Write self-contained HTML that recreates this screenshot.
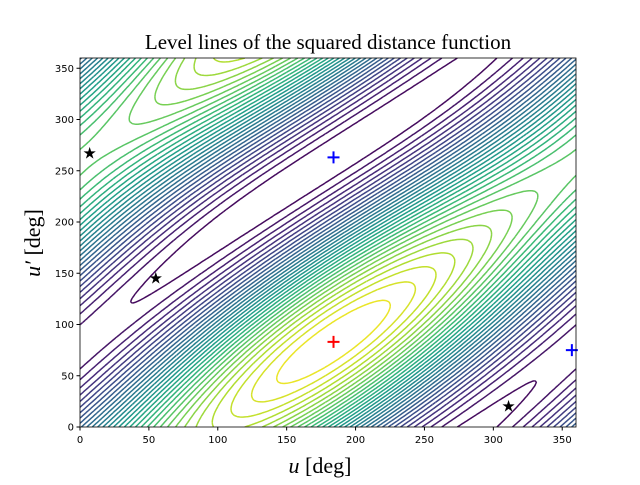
<!DOCTYPE html>
<html><head><meta charset="utf-8"><style>
body{margin:0;background:#fff;width:640px;height:480px;overflow:hidden}
text{font-family:"Liberation Serif",serif}
.tk{font-family:"DejaVu Sans",sans-serif;font-size:10px}
</style></head><body>
<svg id="chart" width="640" height="480">
<text x="328" y="49" text-anchor="middle" font-size="21">Level lines of the squared distance function</text>
<g id="plot"></g>
<g id="axes"></g>
<text x="320" y="473" text-anchor="middle" font-size="22"><tspan font-style="italic">u</tspan> [deg]</text>
<text transform="translate(40,243) rotate(-90)" text-anchor="middle" font-size="22"><tspan font-style="italic">u′</tspan> [deg]</text>
</svg>
<script>
const xTicks=[0,50,100,150,200,250,300,350];
const yTicks=[0,50,100,150,200,250,300,350];
const maxPoint=[[184,83]];
const minPoints=[[184,263],[357,75]];
const saddlePoints=[[7,267],[55,145],[311,20]];
const nLevels=34;
const X0=80,X1=576,Y0=427,Y1=58;
const sx=u=>X0+u*(X1-X0)/360, sy=v=>Y0-v*(Y0-Y1)/360;
const R=Math.PI/180;
function f(u,v){return Math.cos((u-v-101)*R)+0.13*Math.cos((u-184)*R)+0.17*Math.cos((v-83)*R);}
const vir=[[68,1,84],[72,40,120],[62,74,137],[49,104,142],[38,130,142],[31,158,137],[53,183,121],[109,205,89],[180,222,44],[253,231,37]];
function col(t){t=Math.max(0,Math.min(1,t))*(vir.length-1);const i=Math.min(vir.length-2,Math.floor(t)),r=t-i;const c=vir[i].map((a,k)=>Math.round(a+(vir[i+1][k]-a)*r));return `rgb(${c})`;}
const NS="http://www.w3.org/2000/svg";
const plot=document.getElementById('plot');
const step=2,N=360/step+1;const G=[];let mn=1e9,mx=-1e9;
for(let j=0;j<N;j++){G[j]=[];for(let i=0;i<N;i++){const z=f(i*step,j*step);G[j][i]=z;mn=Math.min(mn,z);mx=Math.max(mx,z);}}
const cp=document.createElementNS(NS,'clipPath');cp.setAttribute('id','cl');const cr=document.createElementNS(NS,'rect');
cr.setAttribute('x',X0);cr.setAttribute('y',Y1);cr.setAttribute('width',X1-X0);cr.setAttribute('height',Y0-Y1);cp.appendChild(cr);plot.appendChild(cp);
for(let L=1;L<nLevels;L++){
 const lv=mn+(mx-mn)*L/nLevels;let d='';
 for(let j=0;j<N-1;j++)for(let i=0;i<N-1;i++){
  const c=[[i,j,G[j][i]],[i+1,j,G[j][i+1]],[i+1,j+1,G[j+1][i+1]],[i,j+1,G[j+1][i]]];const pts=[];
  for(let k=0;k<4;k++){const a=c[k],b=c[(k+1)%4];if((a[2]<lv)!==(b[2]<lv)){const t=(lv-a[2])/(b[2]-a[2]);pts.push([sx((a[0]+(b[0]-a[0])*t)*step),sy((a[1]+(b[1]-a[1])*t)*step)]);}}
  for(let k=0;k+1<pts.length;k+=2)d+=`M${pts[k][0].toFixed(1)} ${pts[k][1].toFixed(1)}L${pts[k+1][0].toFixed(1)} ${pts[k+1][1].toFixed(1)}`;
 }
 const p=document.createElementNS(NS,'path');
 
 
 p.setAttribute('d',d);p.setAttribute('stroke',col(L/nLevels));p.setAttribute('stroke-width','1.5');p.setAttribute('fill','none');p.setAttribute('clip-path','url(#cl)');
 plot.appendChild(p);
}
function plus(u,v,c,name){const g=document.createElementNS(NS,'path');
 
 
 const x=sx(u),y=sy(v);g.setAttribute('d',`M${x-6} ${y}H${x+6}M${x} ${y-6}V${y+6}`);g.setAttribute('stroke',c);g.setAttribute('stroke-width','2');plot.appendChild(g);}
maxPoint.forEach(p=>plus(p[0],p[1],'#f00','max-marker'));
minPoints.forEach(p=>plus(p[0],p[1],'#00f','min-marker'));
saddlePoints.forEach(p=>{const t=document.createElementNS(NS,'text');
 
 
 t.setAttribute('x',sx(p[0]));t.setAttribute('y',sy(p[1])+5);t.setAttribute('text-anchor','middle');t.setAttribute('font-size','16');t.setAttribute('font-family','DejaVu Sans');t.textContent='★';plot.appendChild(t);});
const ax=document.getElementById('axes');
const fr=document.createElementNS(NS,'rect');


fr.setAttribute('x',X0);fr.setAttribute('y',Y1);fr.setAttribute('width',X1-X0);fr.setAttribute('height',Y0-Y1);fr.setAttribute('fill','none');fr.setAttribute('stroke','#000');fr.setAttribute('stroke-width','0.8');ax.appendChild(fr);
xTicks.forEach(v=>{const l=document.createElementNS(NS,'path');l.setAttribute('d',`M${sx(v)} ${Y0}v3.5`);l.setAttribute('stroke','#000');ax.appendChild(l);
 const t=document.createElementNS(NS,'text');
 
 
 t.setAttribute('class','tk');t.setAttribute('x',sx(v));t.setAttribute('y',Y0+16);t.setAttribute('text-anchor','middle');t.textContent=v;ax.appendChild(t);});
yTicks.forEach(v=>{const l=document.createElementNS(NS,'path');l.setAttribute('d',`M${X0} ${sy(v)}h-3.5`);l.setAttribute('stroke','#000');ax.appendChild(l);
 const t=document.createElementNS(NS,'text');
 
 
 t.setAttribute('class','tk');t.setAttribute('x',X0-6);t.setAttribute('y',sy(v)+3.5);t.setAttribute('text-anchor','end');t.textContent=v;ax.appendChild(t);});
</script>
</body></html>
